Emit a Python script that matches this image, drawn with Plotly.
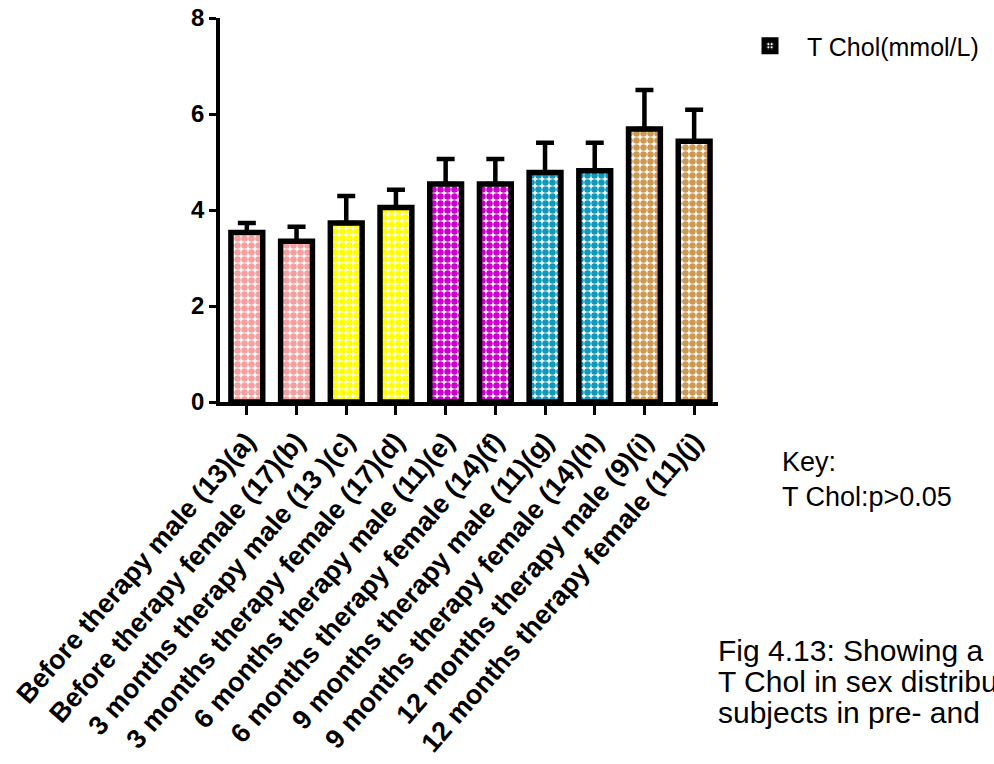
import plotly.graph_objects as go

# Total cholesterol by therapy stage and sex (group size n in brackets)
categories = [
    "Before therapy male (13)(a)",
    "Before therapy female (17)(b)",
    "3 months therapy male (13 )(c)",
    "3 months therapy female (17)(d)",
    "6 months therapy male (11)(e)",
    "6 months therapy female (14)(f)",
    "9 months therapy male (11)(g)",
    "9 months therapy female (14)(h)",
    "12 months therapy male (9)(i)",
    "12 months therapy female (11)(j)",
]
mean_tchol = [3.53, 3.35, 3.73, 4.05, 4.54, 4.54, 4.78, 4.82, 5.69, 5.43]
sem_tchol = [0.20, 0.30, 0.56, 0.37, 0.52, 0.52, 0.62, 0.58, 0.81, 0.66]
y_ticks = [0, 2, 4, 6, 8]

series_name = "T Chol(mmol/L)"
key_lines = ["Key:", "T Chol:p>0.05"]
caption_lines = [
    "Fig 4.13: Showing a",
    "T Chol in sex distribution",
    "subjects in pre- and",
]

# one fill colour per therapy stage (male/female pairs share a colour)
bar_colors = [
    "#F5A0A0", "#F5A0A0",
    "#FFFF00", "#FFFF00",
    "#CC00CC", "#CC00CC",
    "#1199BB", "#1199BB",
    "#CC9955", "#CC9955",
]

FONT = "Liberation Sans, Arial, sans-serif"
W, H = 994, 764
L, R, T, B = 220, 276, 18, 362
plot_w = W - L - R
plot_h = H - T - B


def px_x(px):
    return (px - L) / plot_w


def px_y(py):
    return (H - B - py) / plot_h


fig = go.Figure()

fig.add_trace(go.Bar(
    x=categories,
    y=mean_tchol,
    width=0.64,
    showlegend=False,
    marker=dict(
        color=bar_colors,
        line=dict(color="black", width=5.5),
        pattern=dict(shape=".", size=7, solidity=0.68,
                     fgcolor="black", bgcolor=bar_colors,
                     fillmode="replace"),
    ),
    error_y=dict(type="data", symmetric=False, array=sem_tchol,
                 arrayminus=[0] * len(sem_tchol),
                 color="black", thickness=4.5, width=9),
))

# legend entry for the series
fig.add_trace(go.Bar(
    x=[None], y=[None],
    name=series_name,
    showlegend=True,
    marker=dict(
        color="black",
        line=dict(color="black", width=5),
        pattern=dict(shape=".", size=4, solidity=0.4,
                     fgcolor="white", bgcolor="black",
                     fillmode="replace"),
    ),
))

for i, txt in enumerate(key_lines):
    fig.add_annotation(
        x=px_x(780), y=px_y(462 + 35 * i), xref="paper", yref="paper",
        text=txt, showarrow=False, xanchor="left", yanchor="middle",
        font=dict(family=FONT, size=27, color="black"),
    )

for i, txt in enumerate(caption_lines):
    fig.add_annotation(
        x=px_x(716), y=px_y(650 + 31 * i), xref="paper", yref="paper",
        text=txt, showarrow=False, xanchor="left", yanchor="middle",
        font=dict(family=FONT, size=30, color="black"),
    )

fig.update_layout(
    width=W, height=H,
    margin=dict(l=L, r=R, t=T, b=B, pad=0, autoexpand=False),
    paper_bgcolor="white",
    plot_bgcolor="white",
    legend=dict(
        x=px_x(733), y=px_y(23), xanchor="left", yanchor="top",
        font=dict(family=FONT, size=25, color="black"),
        itemwidth=64, bgcolor="rgba(0,0,0,0)",
    ),
    font=dict(family=FONT, color="black"),
)

fig.update_xaxes(
    type="category",
    range=[-0.54, 9.48],
    showline=True, linecolor="black", linewidth=3.5,
    ticks="outside", ticklen=9, tickwidth=3, tickcolor="black",
    tickangle=-49,
    tickfont=dict(family=FONT, size=27, color="black", weight="bold"),
    showgrid=False, zeroline=False,
)

fig.update_yaxes(
    range=[0, 8],
    tickvals=y_ticks,
    showline=True, linecolor="black", linewidth=3.5,
    ticks="outside", ticklen=7, tickwidth=3, tickcolor="black",
    tickfont=dict(family=FONT, size=24, color="black", weight="bold"),
    showgrid=False, zeroline=False,
)

fig.write_html("out.html")
